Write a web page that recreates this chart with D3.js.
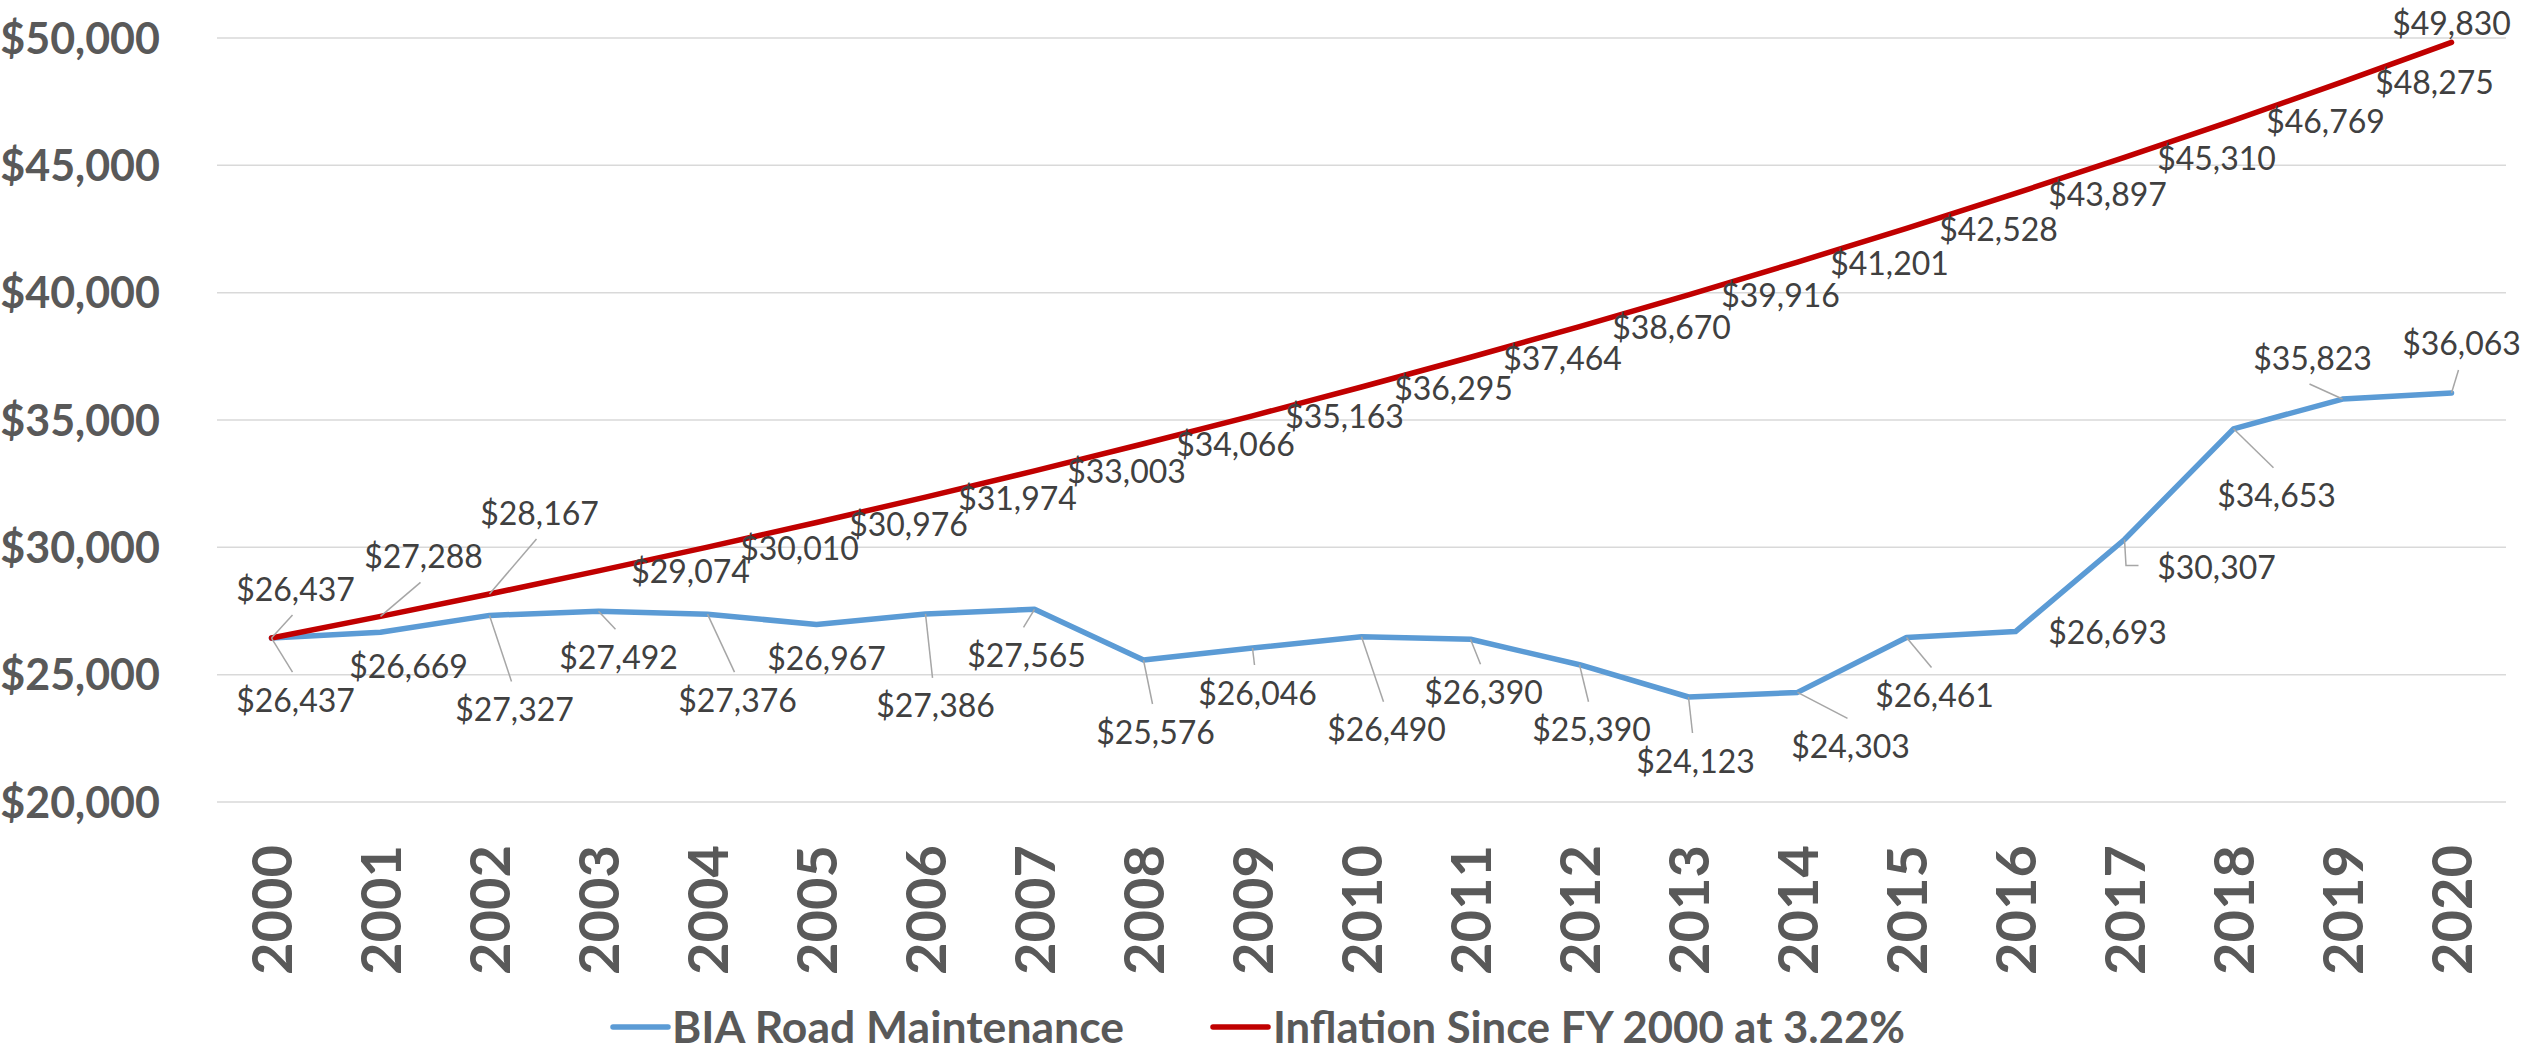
<!DOCTYPE html>
<html>
<head>
<meta charset="utf-8">
<script src="https://cdn.jsdelivr.net/npm/d3@7"></script>
<style>
  html, body { margin: 0; padding: 0; background: #ffffff; }
  svg { display: block; }
</style>
</head>
<body>
<svg id="chart" width="2522" height="1051"></svg>
<script>
// ---------- data ----------
const years = ["2000","2001","2002","2003","2004","2005","2006","2007","2008","2009","2010",
               "2011","2012","2013","2014","2015","2016","2017","2018","2019","2020"];
const biaValues = [26437, 26669, 27327, 27492, 27376, 26967, 27386, 27565, 25576, 26046, 26490,
                   26390, 25390, 24123, 24303, 26461, 26693, 30307, 34653, 35823, 36063];
const inflationValues = [26437, 27288, 28167, 29074, 30010, 30976, 31974, 33003, 34066, 35163, 36295,
                         37464, 38670, 39916, 41201, 42528, 43897, 45310, 46769, 48275, 49830];
const yTicks = [20000, 25000, 30000, 35000, 40000, 45000, 50000];
const seriesNames = ["BIA Road Maintenance", "Inflation Since FY 2000 at 3.22%"];

// ---------- label layout (offset of label centre from its point, px; leader type) ----------
const biaLabelLayout = [
  [24, 62, "line"], [28, 34, ""], [25, 94, "line"], [20, 46, "line"], [30, 86, "line"],
  [10, 34, ""], [10, 92, "line"], [-8, 46, "line"], [12, 72, "line"], [5, 45, "line"],
  [25, 93, "line"], [13, 53, "line"], [12, 65, "line"], [7, 64, "line"], [53, 54, "line"],
  [28, 58, "line"], [92, 1, ""], [92, 28, "elbow"], [43, 67, "line"], [-30, -41, "line"],
  [10, -49, "line"]
];
const inflationLabelLayout = [
  [24, -49, "line"], [43, -60, "line"], [50, -81, "line"],
  [92, 1, ""], [92, 1, ""], [92, 2, ""], [92, 1, ""], [92, 1, ""], [92, 1, ""], [92, 1, ""],
  [92, 1, ""], [92, 1, ""], [92, 1, ""], [92, 1, ""], [92, 1, ""], [92, 1, ""], [92, 1, ""],
  [92, 1, ""], [92, 1, ""], [92, 1, ""], [0, -19, ""]
];

// ---------- setup ----------
const svg = d3.select("#chart");
const W = 2522, H = 1051;
const plot = { left: 217, right: 2506, top: 38, bottom: 802 };

svg.append("rect").attr("width", W).attr("height", H).attr("fill", "#ffffff");

const x = d3.scaleBand().domain(years).range([plot.left, plot.right]);
const y = d3.scaleLinear().domain([20000, 50000]).range([plot.bottom, plot.top]);
const cx = d => x(d) + x.bandwidth() / 2;

const fmt = v => "$" + d3.format(",")(v);
const FONT = "Lato, 'Open Sans', 'DejaVu Sans', sans-serif";

// gridlines
svg.append("g")
  .selectAll("line").data(yTicks).join("line")
  .attr("x1", plot.left).attr("x2", plot.right)
  .attr("y1", d => y(d)).attr("y2", d => y(d))
  .attr("stroke", "#d9d9d9").attr("stroke-width", 1.5);

// y axis
const yAxis = d3.axisLeft(y).tickValues(yTicks).tickFormat(fmt).tickSize(0).tickPadding(0);
const gy = svg.append("g").attr("transform", "translate(160,0)").call(yAxis);
gy.select(".domain").remove();
gy.selectAll("text")
  .attr("font-family", FONT).attr("font-weight", "bold").attr("font-size", 43)
  .attr("fill", "#595959").attr("text-anchor", "end").attr("dy", "0.35em");

// x axis
const xAxis = d3.axisBottom(x).tickSize(0).tickPadding(0);
const gx = svg.append("g").attr("transform", "translate(0,845)").call(xAxis);
gx.select(".domain").remove();
gx.selectAll("text")
  .attr("font-family", FONT).attr("font-weight", "bold").attr("font-size", 56)
  .attr("fill", "#595959")
  .attr("text-anchor", "end")
  .attr("transform", "rotate(-90)")
  .attr("x", 0).attr("y", 0).attr("dy", "0.36em");

// lines
const line = d3.line().x((d, i) => cx(years[i])).y(d => y(d));
svg.append("path").datum(biaValues).attr("d", line)
  .attr("fill", "none").attr("stroke", "#5B9BD5").attr("stroke-width", 5.5)
  .attr("stroke-linejoin", "round").attr("stroke-linecap", "round");
svg.append("path").datum(inflationValues).attr("d", line)
  .attr("fill", "none").attr("stroke", "#C00000").attr("stroke-width", 5.5)
  .attr("stroke-linejoin", "round").attr("stroke-linecap", "round");

// labels + leaders
function drawLabels(values, layout) {
  const g = svg.append("g");
  values.forEach((v, i) => {
    const px = cx(years[i]), py = y(v);
    const [dx, dy, leader] = layout[i];
    const lx = px + dx, ly = py + dy;
    if (leader === "line") {
      const ey = dy > 0 ? ly - 28 : ly + 26;
      g.append("line").attr("x1", px).attr("y1", py).attr("x2", lx - 3).attr("y2", ey)
        .attr("stroke", "#a6a6a6").attr("stroke-width", 1.5);
    } else if (leader === "elbow") {
      g.append("polyline")
        .attr("points", `${px},${py} ${px + 1.5},${ly - 2} ${lx - 78},${ly - 2}`)
        .attr("fill", "none").attr("stroke", "#a6a6a6").attr("stroke-width", 1.5);
    }
    g.append("text").attr("x", lx).attr("y", ly).attr("dy", "0.36em")
      .attr("text-anchor", "middle")
      .attr("font-family", FONT).attr("font-size", 32).attr("fill", "#404040")
      .text(fmt(v));
  });
}
drawLabels(biaValues, biaLabelLayout);
drawLabels(inflationValues, inflationLabelLayout);

// legend
const legend = svg.append("g").attr("transform", "translate(0,1027)");
const legendItems = [
  { name: seriesNames[0], color: "#5B9BD5", x0: 613, tx: 672, tl: 452 },
  { name: seriesNames[1], color: "#C00000", x0: 1213, tx: 1273, tl: 632 }
];
legendItems.forEach(it => {
  legend.append("line").attr("x1", it.x0).attr("x2", it.x0 + 55).attr("y1", 0).attr("y2", 0)
    .attr("stroke", it.color).attr("stroke-width", 5.5).attr("stroke-linecap", "round");
  legend.append("text").attr("x", it.tx).attr("y", 0).attr("dy", "0.36em")
    .attr("font-family", FONT).attr("font-weight", "bold").attr("font-size", 44)
    .attr("fill", "#595959")
    .attr("textLength", it.tl).attr("lengthAdjust", "spacingAndGlyphs")
    .text(it.name);
});
</script>
</body>
</html>
